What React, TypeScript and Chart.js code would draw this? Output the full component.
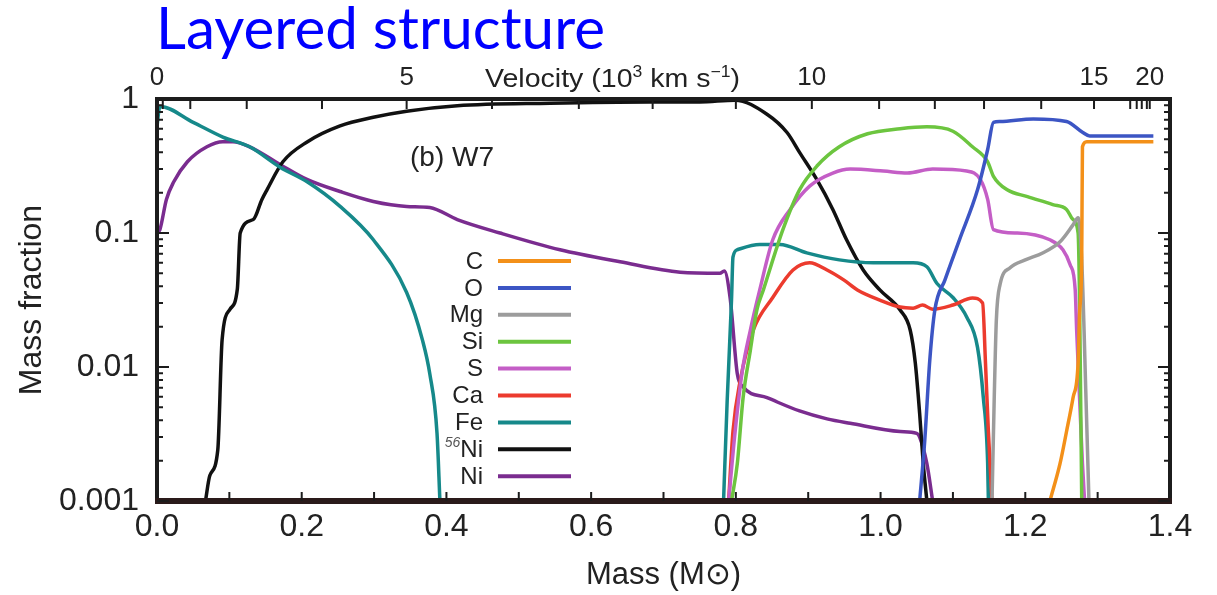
import React, { useEffect, useRef } from 'react';
import { Chart, registerables } from 'chart.js';

Chart.register(...registerables);

const FONT = '"Liberation Sans", Arial, Helvetica, sans-serif';

// ---- Data: mass coordinate (M_sun) and mass fraction for each species ----
const cMass = [1.234, 1.248, 1.257, 1.266, 1.273, 1.275, 1.278, 1.279, 1.285, 1.377];
const cFrac = [0.001, 0.0019, 0.0033, 0.0059, 0.0107, 0.025, 0.066, 0.44, 0.48, 0.48];

const oMass = [1.054, 1.061, 1.068, 1.075, 1.089, 1.109, 1.134, 1.148, 1.156, 1.165, 1.211, 1.257, 1.279, 1.289, 1.377];
const oFrac = [0.001, 0.0028, 0.0112, 0.0266, 0.0447, 0.089, 0.21, 0.42, 0.67, 0.68, 0.71, 0.68, 0.565, 0.53, 0.53];

const mgMass = [1.154, 1.157, 1.16, 1.165, 1.179, 1.2, 1.224, 1.248, 1.266, 1.273, 1.278, 1.284, 1.288];
const mgFrac = [0.001, 0.0056, 0.0224, 0.041, 0.055, 0.063, 0.071, 0.086, 0.115, 0.13, 0.063, 0.0056, 0.001];

const siMass = [0.794, 0.802, 0.81, 0.82, 0.829, 0.838, 0.865, 0.888, 0.912, 0.943, 0.982, 1.027, 1.064, 1.1, 1.127, 1.148, 1.156, 1.175, 1.203, 1.238, 1.257, 1.266, 1.273, 1.275, 1.278];
const siFrac = [0.001, 0.0019, 0.0059, 0.0133, 0.0266, 0.0376, 0.106, 0.21, 0.316, 0.44, 0.55, 0.6, 0.62, 0.575, 0.44, 0.34, 0.265, 0.21, 0.187, 0.163, 0.15, 0.126, 0.1, 0.032, 0.001];

const sMass = [0.79, 0.799, 0.809, 0.82, 0.833, 0.851, 0.875, 0.902, 0.934, 0.958, 1.004, 1.037, 1.072, 1.119, 1.138, 1.148, 1.156, 1.189, 1.234, 1.252, 1.262, 1.269, 1.271, 1.275, 1.279, 1.282];
const sFrac = [0.001, 0.0033, 0.0094, 0.0188, 0.0376, 0.089, 0.15, 0.224, 0.28, 0.3, 0.29, 0.28, 0.3, 0.29, 0.25, 0.178, 0.106, 0.1, 0.089, 0.075, 0.058, 0.0376, 0.0188, 0.0059, 0.0019, 0.001];

const caMass = [0.79, 0.796, 0.806, 0.824, 0.851, 0.879, 0.902, 0.926, 0.949, 0.968, 0.999, 1.027, 1.045, 1.058, 1.072, 1.1, 1.127, 1.141, 1.145, 1.149, 1.154];
const caFrac = [0.001, 0.0033, 0.0079, 0.0188, 0.033, 0.053, 0.06, 0.053, 0.0447, 0.0376, 0.0316, 0.028, 0.0275, 0.029, 0.027, 0.029, 0.0327, 0.03, 0.0107, 0.0033, 0.001];

const feMass = [0, 0.004, 0.05, 0.091, 0.128, 0.17, 0.208, 0.253, 0.299, 0.345, 0.367, 0.377, 0.387, 0.391, 0.6, 0.783, 0.788, 0.794, 0.796, 0.802, 0.833, 0.861, 0.898, 0.943, 0.99, 1.045, 1.064, 1.078, 1.1, 1.119, 1.134, 1.142, 1.148, 1.149];
const feFrac = [0.63, 0.88, 0.67, 0.52, 0.44, 0.31, 0.24, 0.158, 0.089, 0.036, 0.0158, 0.0089, 0.0032, 0.001, null, 0.001, 0.0056, 0.0316, 0.066, 0.075, 0.082, 0.082, 0.071, 0.063, 0.06, 0.06, 0.056, 0.042, 0.033, 0.0236, 0.014, 0.0059, 0.0019, 0.001];

const ni56Mass = [0.067, 0.073, 0.084, 0.09, 0.101, 0.111, 0.115, 0.133, 0.145, 0.152, 0.174, 0.208, 0.253, 0.299, 0.345, 0.415, 0.543, 0.681, 0.75, 0.799, 0.843, 0.871, 0.888, 0.912, 0.934, 0.953, 0.976, 0.999, 1.027, 1.041, 1.048, 1.054, 1.059, 1.064];
const ni56Frac = [0.001, 0.00155, 0.0024, 0.016, 0.027, 0.038, 0.1, 0.126, 0.178, 0.21, 0.34, 0.48, 0.63, 0.73, 0.81, 0.89, 0.93, 0.95, 0.95, 0.98, 0.77, 0.56, 0.4, 0.25, 0.15, 0.089, 0.053, 0.0376, 0.0266, 0.0188, 0.0107, 0.0045, 0.0019, 0.001];

const niMass = [0, 0.004, 0.013, 0.023, 0.042, 0.069, 0.091, 0.105, 0.128, 0.17, 0.208, 0.253, 0.299, 0.345, 0.377, 0.415, 0.474, 0.557, 0.64, 0.723, 0.778, 0.784, 0.792, 0.802, 0.81, 0.843, 0.888, 0.926, 0.958, 1.027, 1.05, 1.054, 1.064, 1.072];
const niFrac = [0.1, 0.106, 0.178, 0.24, 0.34, 0.44, 0.48, 0.48, 0.44, 0.325, 0.25, 0.204, 0.172, 0.158, 0.155, 0.126, 0.1, 0.075, 0.061, 0.051, 0.05, 0.052, 0.033, 0.0089, 0.0071, 0.0059, 0.0047, 0.0041, 0.0038, 0.0033, 0.0032, 0.003, 0.0019, 0.001];

const speciesNames = ['C', 'O', 'Mg', 'Si', 'S', 'Ca', 'Fe', '56Ni', 'Ni'];
const speciesColors = ['#f39019', '#3c55c4', '#9c9c9c', '#6cc53f', '#c45ec6', '#ec3b2e', '#16898a', '#111111', '#7a2c8f'];
const speciesMass = [cMass, oMass, mgMass, siMass, sMass, caMass, feMass, ni56Mass, niMass];
const speciesFrac = [cFrac, oFrac, mgFrac, siFrac, sFrac, caFrac, feFrac, ni56Frac, niFrac];

// ---- Axes ----
const massTicks = [0, 0.2, 0.4, 0.6, 0.8, 1.0, 1.2, 1.4];
const massTickLabels = ['0.0', '0.2', '0.4', '0.6', '0.8', '1.0', '1.2', '1.4'];
const massMinorTicks = [0.1, 0.2, 0.3, 0.4, 0.5, 0.6, 0.7, 0.8, 0.9, 1.0, 1.1, 1.2, 1.3];
const fracTicks = [0.001, 0.01, 0.1, 1];
const fracTickLabels = ['0.001', '0.01', '0.1', '1'];
const velocityValues = [0, 1, 2, 3, 4, 5, 6, 7, 8, 9, 10, 11, 12, 13, 14, 15, 16, 17, 18, 19, 20];
const velocityMass = [0, 0.008, 0.046, 0.124, 0.228, 0.345, 0.463, 0.583, 0.685, 0.8, 0.905, 0.998, 1.075, 1.143, 1.222, 1.295, 1.345, 1.354, 1.361, 1.368, 1.372];
const velocityLabelled = [0, 5, 10, 15, 20];

const decorPlugin = {
  id: 'decor',
  afterDatasetsDraw(chart: any) {
    const ctx = chart.ctx;
    const a = chart.chartArea;
    const xS = chart.scales.x;
    const x2 = chart.scales.x2;
    const yS = chart.scales.y;
    ctx.save();

    // frame
    ctx.strokeStyle = '#1c1c1c';
    ctx.lineWidth = 4;
    ctx.strokeRect(a.left, a.top, a.right - a.left, a.bottom - a.top);
    ctx.strokeStyle = '#2a1a1a';
    ctx.lineWidth = 6;
    ctx.beginPath();
    ctx.moveTo(a.left - 2, a.bottom);
    ctx.lineTo(a.right + 2, a.bottom);
    ctx.stroke();

    // inward tick marks
    ctx.strokeStyle = '#1c1c1c';
    ctx.lineWidth = 2;
    ctx.beginPath();
    massMinorTicks.forEach((m) => {
      const px = xS.getPixelForValue(m);
      ctx.moveTo(px, a.bottom);
      ctx.lineTo(px, a.bottom - 9);
    });
    velocityMass.forEach((m) => {
      const px = x2.getPixelForValue(m);
      ctx.moveTo(px, a.top);
      ctx.lineTo(px, a.top + 10);
    });
    for (let d = 0; d < 3; d++) {
      const dec = fracTicks[d];
      for (let k = 1; k <= 9; k++) {
        const py = yS.getPixelForValue(dec * k);
        const len = k === 1 ? 12 : 6;
        ctx.moveTo(a.left, py);
        ctx.lineTo(a.left + len, py);
        ctx.moveTo(a.right, py);
        ctx.lineTo(a.right - len, py);
      }
    }
    ctx.stroke();

    // top axis title (inline with the velocity tick labels)
    const big = '26px ' + FONT;
    const small = '16px ' + FONT;
    const parts: [string, boolean][] = [['Velocity (10', false], ['3', true], [' km s', false], ['\u22121', true], [')', false]];
    let total = 0;
    parts.forEach(([t, sup]) => {
      ctx.font = sup ? small : big;
      total += ctx.measureText(t).width;
    });
    ctx.save();
    ctx.translate(485, 87);
    ctx.scale(255 / total, 1);
    let tx = 0;
    ctx.fillStyle = '#222';
    ctx.textAlign = 'left';
    ctx.textBaseline = 'alphabetic';
    parts.forEach(([t, sup]) => {
      ctx.font = sup ? small : big;
      ctx.fillText(t, tx, sup ? -10 : 0);
      tx += ctx.measureText(t).width;
    });
    ctx.restore();

    // panel label
    ctx.fillStyle = '#222';
    ctx.textAlign = 'left';
    ctx.textBaseline = 'alphabetic';
    ctx.font = '28px ' + FONT;
    ctx.fillText('(b) W7', 410, 166);

    // legend
    const lx = 483;
    speciesNames.forEach((name, i) => {
      const y = 261 + i * 26.9;
      ctx.strokeStyle = speciesColors[i];
      ctx.lineWidth = 4;
      ctx.beginPath();
      ctx.moveTo(498, y);
      ctx.lineTo(571, y);
      ctx.stroke();
      ctx.fillStyle = '#222';
      ctx.textAlign = 'right';
      ctx.textBaseline = 'middle';
      ctx.font = '24px ' + FONT;
      if (name === '56Ni') {
        ctx.fillText('Ni', lx, y + 1);
        const w = ctx.measureText('Ni').width;
        ctx.font = 'italic 14px ' + FONT;
        ctx.fillStyle = '#555';
        ctx.fillText('56', lx - w, y - 6);
      } else {
        ctx.fillText(name, lx, y + 1);
      }
    });

    // page title
    ctx.font = '58px Lato, "Open Sans", sans-serif';
    ctx.fillStyle = '#0000ff';
    ctx.textAlign = 'left';
    ctx.textBaseline = 'alphabetic';
    const title = 'Layered structure';
    const w = ctx.measureText(title).width;
    ctx.translate(156, 49);
    ctx.scale(449 / w, 1);
    ctx.fillText(title, 0, 0);
    ctx.restore();
  },
};

export default function App() {
  const ref = useRef<HTMLCanvasElement>(null);
  useEffect(() => {
    if (!ref.current) return;
    const datasets = speciesNames.map((name, i) => ({
      label: name,
      data: speciesMass[i].map((m, j) => ({ x: m, y: speciesFrac[i][j] })),
      borderColor: speciesColors[i],
      backgroundColor: speciesColors[i],
      borderWidth: 3.5,
      pointRadius: 0,
      fill: false,
      spanGaps: false,
      cubicInterpolationMode: 'monotone' as const,
    }));
    const chart = new Chart(ref.current, {
      type: 'line',
      data: { datasets },
      options: {
        responsive: false,
        animation: false,
        layout: { padding: { left: 0, right: 47, top: 0, bottom: 0 } },
        plugins: { legend: { display: false }, tooltip: { enabled: false }, title: { display: false } },
        scales: {
          x: {
            type: 'linear',
            position: 'bottom',
            min: 0,
            max: 1.4,
            grid: { display: false, drawTicks: false },
            border: { display: false },
            afterBuildTicks: (s: any) => { s.ticks = massTicks.map((v) => ({ value: v })); },
            afterFit: (s: any) => { s.height = 94; },
            ticks: {
              autoSkip: false,
              maxRotation: 0,
              padding: 7,
              color: '#222',
              font: { family: FONT, size: 32 },
              callback: (_v: any, i: number) => massTickLabels[i],
            },
            title: {
              display: true,
              text: 'Mass (M\u2299)',
              color: '#222',
              font: { family: FONT, size: 31 },
              padding: { top: 0, bottom: 1 },
            },
          },
          x2: {
            type: 'linear',
            position: 'top',
            min: 0,
            max: 1.4,
            grid: { display: false, drawTicks: false },
            border: { display: false },
            afterBuildTicks: (s: any) => { s.ticks = velocityMass.map((v) => ({ value: v })); },
            afterFit: (s: any) => { s.height = 99; },
            ticks: {
              autoSkip: false,
              maxRotation: 0,
              padding: 6,
              color: '#222',
              font: { family: FONT, size: 26 },
              callback: (_v: any, i: number) => (velocityLabelled.includes(velocityValues[i]) ? String(velocityValues[i]) : ''),
            },
          },
          y: {
            type: 'logarithmic',
            min: 0.001,
            max: 1,
            grid: { display: false, drawTicks: false },
            border: { display: false },
            afterBuildTicks: (s: any) => { s.ticks = fracTicks.map((v) => ({ value: v })); },
            afterFit: (s: any) => { s.width = 157; },
            ticks: {
              autoSkip: false,
              padding: 18,
              color: '#222',
              font: { family: FONT, size: 32 },
              callback: (_v: any, i: number) => fracTickLabels[i],
            },
            title: {
              display: true,
              text: 'Mass fraction',
              color: '#222',
              font: { family: FONT, size: 32 },
              padding: { top: 13, bottom: 0 },
            },
          },
        },
      },
      plugins: [decorPlugin],
    });
    return () => chart.destroy();
  }, []);
  return (
    <div style={{ position: 'absolute', left: 0, top: 0, width: 1217, height: 595, background: '#fff' }}>
      <canvas ref={ref} width={1217} height={595} />
    </div>
  );
}
